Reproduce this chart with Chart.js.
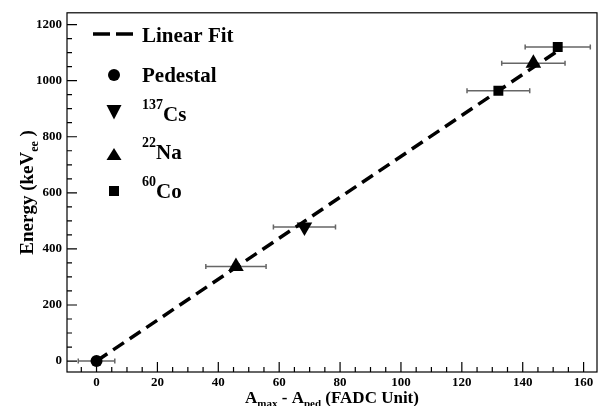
<!DOCTYPE html>
<html>
<head>
<meta charset="utf-8">
<script src="https://cdn.jsdelivr.net/npm/chart.js@4.4.1/dist/chart.umd.min.js"></script>
<style>
  html, body { margin: 0; padding: 0; background: #fff; }
  #wrap { width: 606px; height: 406px; position: relative; }
</style>
</head>
<body>
<div id="wrap"><canvas id="chart"></canvas></div>
<script>
// ── data ───────────────────────────────────────────────────────
const pedX = [0],            pedY = [0],            pedErr = [6];
const csX  = [68.3],         csY  = [478],          csErr  = [10.2];
const naX  = [45.8, 143.5],  naY  = [337, 1062],    naErr  = [9.9, 10.4];
const coX  = [132.0, 151.5], coY  = [964, 1120],    coErr  = [10.3, 10.7];
const fitX = [0, 151.5],     fitY = [0, 1106];

const xTicks = [0, 20, 40, 60, 80, 100, 120, 140, 160];
const yTicks = [0, 200, 400, 600, 800, 1000, 1200];

const legendLabels = [
  { sup: '',    text: 'Linear Fit' },
  { sup: '',    text: 'Pedestal' },
  { sup: '137', text: 'Cs' },
  { sup: '22',  text: 'Na' },
  { sup: '60',  text: 'Co' },
];

const SERIF = "'Liberation Serif', 'Times New Roman', serif";
const pts = (xs, ys) => xs.map((x, i) => ({ x, y: ys[i] }));

// error bars, frame with inside ticks, axis titles, legend
const rootStyle = {
  id: 'rootStyle',
  beforeDatasetsDraw(chart) {
    const { ctx, scales: { x, y } } = chart;
    const sets = [[pedX, pedY, pedErr], [csX, csY, csErr], [naX, naY, naErr], [coX, coY, coErr]];
    ctx.save();
    ctx.strokeStyle = '#666';
    ctx.lineWidth = 1.5;
    sets.forEach(([xs, ys, es]) => xs.forEach((v, i) => {
      const x0 = x.getPixelForValue(v - es[i]);
      const x1 = x.getPixelForValue(v + es[i]);
      const py = y.getPixelForValue(ys[i]);
      ctx.beginPath();
      ctx.moveTo(x0, py); ctx.lineTo(x1, py);
      ctx.moveTo(x0, py - 2.5); ctx.lineTo(x0, py + 2.5);
      ctx.moveTo(x1, py - 2.5); ctx.lineTo(x1, py + 2.5);
      ctx.stroke();
    }));
    ctx.restore();
  },
  afterDraw(chart) {
    const { ctx, chartArea: a, scales: { x, y } } = chart;
    ctx.save();
    // frame
    ctx.strokeStyle = '#000';
    ctx.lineWidth = 1.2;
    ctx.strokeRect(a.left, a.top, a.right - a.left, a.bottom - a.top);
    // ticks inside the frame
    ctx.beginPath();
    for (let v = -5; v <= x.max; v += 5) {
      if (v < x.min) continue;
      const px = x.getPixelForValue(v);
      const len = v % 20 === 0 ? 10 : 5;
      ctx.moveTo(px, a.bottom); ctx.lineTo(px, a.bottom - len);
    }
    for (let v = 0; v <= y.max; v += 50) {
      const py = y.getPixelForValue(v);
      const len = v % 200 === 0 ? 10 : 5;
      ctx.moveTo(a.left, py); ctx.lineTo(a.left + len, py);
    }
    ctx.stroke();

    // axis titles
    ctx.fillStyle = '#000';
    ctx.textBaseline = 'alphabetic';
    const big = 'bold 17px ' + SERIF, small = 'bold 11px ' + SERIF;
    const xParts = [['A', big, 0], ['max', small, 4], [' - A', big, 0], ['ped', small, 4], [' (FADC Unit)', big, 0]];
    let w = 0;
    xParts.forEach(([t, f]) => { ctx.font = f; w += ctx.measureText(t).width; });
    let cx = (a.left + a.right) / 2 - w / 2;
    xParts.forEach(([t, f, dy]) => { ctx.font = f; ctx.fillText(t, cx, 403 + dy); cx += ctx.measureText(t).width; });

    const yBig = 'bold 19px ' + SERIF, ySmall = 'bold 12px ' + SERIF;
    const yParts = [['Energy (keV', yBig, 0], ['ee', ySmall, 5], [' )', yBig, 0]];
    w = 0;
    yParts.forEach(([t, f]) => { ctx.font = f; w += ctx.measureText(t).width; });
    ctx.translate(33, (a.top + a.bottom) / 2);
    ctx.rotate(-Math.PI / 2);
    cx = -w / 2;
    yParts.forEach(([t, f, dy]) => { ctx.font = f; ctx.fillText(t, cx, dy); cx += ctx.measureText(t).width; });
    ctx.restore();

    // legend
    ctx.save();
    ctx.fillStyle = '#000';
    ctx.strokeStyle = '#000';
    const mx = 114;
    const base = [41.7, 81.7, 120.7, 159.3, 198.3];
    ctx.lineWidth = 3.5;
    ctx.setLineDash([17, 6]);
    ctx.beginPath(); ctx.moveTo(93, 34); ctx.lineTo(134, 34); ctx.stroke();
    ctx.setLineDash([]);
    ctx.beginPath(); ctx.arc(mx, 75, 6, 0, Math.PI * 2); ctx.fill();
    ctx.beginPath(); ctx.moveTo(mx - 7.5, 105); ctx.lineTo(mx + 7.5, 105); ctx.lineTo(mx, 119.5); ctx.closePath(); ctx.fill();
    ctx.beginPath(); ctx.moveTo(mx - 7.5, 160); ctx.lineTo(mx + 7.5, 160); ctx.lineTo(mx, 148); ctx.closePath(); ctx.fill();
    ctx.fillRect(mx - 5, 186, 10, 10);
    legendLabels.forEach((l, i) => {
      let tx = 142;
      if (l.sup) {
        ctx.font = 'bold 14px ' + SERIF;
        ctx.fillText(l.sup, tx, base[i] - 12);
        tx += ctx.measureText(l.sup).width;
      }
      ctx.font = 'bold 21px ' + SERIF;
      ctx.fillText(l.text, tx, base[i]);
    });
    ctx.restore();
  }
};

const tickFont = { family: SERIF, weight: 'bold', size: 13 };

new Chart(document.getElementById('chart'), {
  type: 'scatter',
  data: {
    datasets: [
      { label: 'Linear Fit', data: pts(fitX, fitY), showLine: true, borderColor: '#000',
        borderWidth: 3.5, borderDash: [13, 7], pointRadius: 0, fill: false },
      { label: 'Pedestal', data: pts(pedX, pedY), pointStyle: 'circle', pointRadius: 6,
        backgroundColor: '#000', borderColor: '#000', borderWidth: 0 },
      { label: '137Cs', data: pts(csX, csY), pointStyle: 'triangle', pointRotation: 180, pointRadius: 9,
        backgroundColor: '#000', borderColor: '#000', borderWidth: 0 },
      { label: '22Na', data: pts(naX, naY), pointStyle: 'triangle', pointRadius: 9,
        backgroundColor: '#000', borderColor: '#000', borderWidth: 0 },
      { label: '60Co', data: pts(coX, coY), pointStyle: 'rect', pointRadius: 7,
        backgroundColor: '#000', borderColor: '#000', borderWidth: 0 },
    ]
  },
  options: {
    responsive: true,
    maintainAspectRatio: false,
    animation: false,
    layout: { padding: { top: 9, right: 4, left: 0, bottom: 0 } },
    plugins: { legend: { display: false }, tooltip: { enabled: false } },
    scales: {
      x: {
        type: 'linear', min: -9.7, max: 164.4, bounds: 'data',
        grid: { display: false, drawTicks: false }, border: { display: false },
        afterFit: s => { s.height = 34; },
        afterBuildTicks: s => { s.ticks = xTicks.map(v => ({ value: v })); },
        ticks: { font: tickFont, color: '#000', padding: 3, autoSkip: false, maxRotation: 0,
                 callback: v => String(v) }
      },
      y: {
        type: 'linear', min: -39, max: 1242, bounds: 'data',
        grid: { display: false, drawTicks: false }, border: { display: false },
        afterFit: s => { s.width = 67; },
        afterBuildTicks: s => { s.ticks = yTicks.map(v => ({ value: v })); },
        ticks: { font: tickFont, color: '#000', padding: 5, autoSkip: false,
                 callback: v => String(v) }
      }
    }
  },
  plugins: [rootStyle]
});
</script>
</body>
</html>
